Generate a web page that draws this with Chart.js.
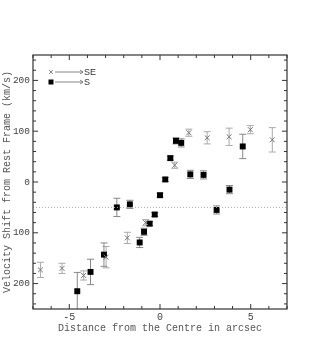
<!DOCTYPE html>
<html>
<head>
<meta charset="utf-8">
<script src="https://cdn.jsdelivr.net/npm/chart.js@4"></script>
<style>
  html, body { margin: 0; padding: 0; background: #fff; }
  canvas { display: block; }
</style>
</head>
<body>
<canvas id="velChart" width="314" height="361"></canvas>
<script>
// SE slit: position (arcsec), velocity shift (km/s), error
const sePos = [-6.59, -5.40, -4.21, -2.97, -1.80, -0.79, 0.81, 1.59, 2.60, 3.81, 4.98, 6.19];
const seVel = [-173, -170, -184, -148, -110, -80, 33, 97, 87, 89, 103, 83];
const seErr = [15, 10, 9, 21, 11, 6, 6, 7, 12, 17, 8, 24];

// S slit
const sPos = [-4.56, -3.83, -3.09, -2.38, -1.66, -1.12, -0.88, -0.57, -0.29, 0.0, 0.29, 0.57, 0.88, 1.17, 1.67, 2.40, 3.12, 3.83, 4.56];
const sVel = [-215, -177, -143, -50, -44, -119, -98, -82, -64, -26, 5, 47, 81, 77, 15, 14, -55, -15, 70];
const sErr = [37, 25, 23, 18, 8, 10, 7, 4, 4, 4, 4, 4, 6, 8, 8, 8, 8, 8, 24];

// axis labels
const xTickValues = [-5, 0, 5];
const yTickValues = [-200, -100, 0, 100, 200];

// dotted reference level
const refLevel = -50;
const legendLabels = ['SE', 'S'];

const monoFont = "'Liberation Mono', 'DejaVu Sans Mono', monospace";

const toPoints = (xs, ys) => xs.map((x, i) => ({ x: x, y: ys[i] }));

// error bars, drawn under the markers
const errorBars = {
  id: 'errorBars',
  beforeDatasetsDraw(chart) {
    const { ctx, chartArea, scales } = chart;
    ctx.save();
    ctx.beginPath();
    ctx.rect(chartArea.left, chartArea.top, chartArea.right - chartArea.left, chartArea.bottom - chartArea.top);
    ctx.clip();
    chart.data.datasets.forEach((ds) => {
      if (!ds.errors) return;
      ctx.strokeStyle = ds.errorColor;
      ctx.lineWidth = 1;
      ds.data.forEach((p, i) => {
        const e = ds.errors[i];
        const x = scales.x.getPixelForValue(p.x);
        const y1 = scales.y.getPixelForValue(p.y + e);
        const y2 = scales.y.getPixelForValue(p.y - e);
        ctx.beginPath();
        ctx.moveTo(x, y1); ctx.lineTo(x, y2);
        ctx.moveTo(x - 3.5, y1); ctx.lineTo(x + 3.5, y1);
        ctx.moveTo(x - 3.5, y2); ctx.lineTo(x + 3.5, y2);
        ctx.stroke();
      });
    });
    ctx.restore();
  }
};

// box frame with inward ticks on all sides, plus the legend
const frameAndLegend = {
  id: 'frameAndLegend',
  afterDraw(chart) {
    const { ctx, chartArea: a, scales } = chart;
    ctx.save();
    ctx.strokeStyle = '#333';
    ctx.lineWidth = 1.2;
    ctx.strokeRect(a.left, a.top, a.right - a.left, a.bottom - a.top);

    ctx.lineWidth = 1;
    ctx.beginPath();
    for (let v = -7; v <= 7; v += 1) {
      const x = scales.x.getPixelForValue(v);
      const len = v % 5 === 0 ? 5 : 3;
      ctx.moveTo(x, a.bottom); ctx.lineTo(x, a.bottom - len);
      ctx.moveTo(x, a.top); ctx.lineTo(x, a.top + len);
    }
    for (let v = -240; v <= 240; v += 20) {
      const y = scales.y.getPixelForValue(v);
      const len = v % 100 === 0 ? 5 : 3;
      ctx.moveTo(a.left, y); ctx.lineTo(a.left + len, y);
      ctx.moveTo(a.right, y); ctx.lineTo(a.right - len, y);
    }
    ctx.stroke();

    // legend: marker ---> label
    const lx = 51;
    const rows = [72, 82];
    ctx.font = "9px 'Liberation Sans', Arial, sans-serif";
    ctx.textBaseline = 'middle';
    rows.forEach((ly, i) => {
      ctx.strokeStyle = '#666';
      ctx.lineWidth = 0.8;
      if (i === 0) {
        ctx.beginPath();
        ctx.moveTo(lx - 2, ly - 2); ctx.lineTo(lx + 2, ly + 2);
        ctx.moveTo(lx - 2, ly + 2); ctx.lineTo(lx + 2, ly - 2);
        ctx.stroke();
      } else {
        ctx.fillStyle = '#000';
        ctx.fillRect(lx - 2.5, ly - 2.5, 5, 5);
      }
      ctx.beginPath();
      ctx.moveTo(55, ly); ctx.lineTo(83, ly);
      ctx.moveTo(80, ly - 2); ctx.lineTo(83, ly); ctx.lineTo(80, ly + 2);
      ctx.stroke();
      ctx.fillStyle = '#333';
      ctx.fillText(legendLabels[i], 84, ly + 0.5);
    });
    ctx.restore();
  }
};

new Chart(document.getElementById('velChart').getContext('2d'), {
  type: 'scatter',
  data: {
    datasets: [
      {
        label: 'ref',
        type: 'line',
        data: [{ x: -7, y: refLevel }, { x: 7, y: refLevel }],
        borderColor: '#aaa',
        borderWidth: 1,
        borderDash: [1, 2],
        pointRadius: 0
      },
      {
        label: 'SE',
        data: toPoints(sePos, seVel),
        errors: seErr,
        errorColor: '#aaa',
        pointStyle: 'crossRot',
        pointRadius: 3.5,
        borderColor: '#777',
        borderWidth: 1
      },
      {
        label: 'S',
        data: toPoints(sPos, sVel),
        errors: sErr,
        errorColor: '#888',
        pointStyle: 'rect',
        pointRadius: 4.2,
        backgroundColor: '#000',
        borderColor: '#000',
        borderWidth: 0
      }
    ]
  },
  options: {
    responsive: false,
    animation: false,
    events: [],
    layout: { padding: { top: 55, right: 27, bottom: 22, left: 1 } },
    plugins: { legend: { display: false }, tooltip: { enabled: false } },
    scales: {
      x: {
        type: 'linear',
        min: -7, max: 7,
        afterBuildTicks: (s) => { s.ticks = xTickValues.map((v) => ({ value: v })); },
        afterFit: (s) => { s.height = 30; },
        grid: { display: false, drawTicks: false },
        border: { display: false },
        ticks: { autoSkip: false, padding: 2, color: '#444', font: { family: monoFont, size: 10 } },
        title: { display: true, text: 'Distance from the Centre in arcsec', color: '#555', font: { family: monoFont, size: 10 }, padding: { top: 0, bottom: 5 } }
      },
      y: {
        type: 'linear',
        min: -250, max: 250,
        afterBuildTicks: (s) => { s.ticks = yTickValues.map((v) => ({ value: v })); },
        afterFit: (s) => { s.width = 32; },
        grid: { display: false, drawTicks: false },
        border: { display: false },
        ticks: {
          autoSkip: false, padding: 3, color: '#444',
          font: { family: monoFont, size: 9.5 },
          callback: (v) => String(Math.abs(v))
        },
        title: { display: true, text: 'Velocity Shift from Rest Frame (km/s)', color: '#555', font: { family: monoFont, size: 10 }, padding: { top: 0, bottom: 0 } }
      }
    }
  },
  plugins: [errorBars, frameAndLegend]
});
</script>
</body>
</html>
